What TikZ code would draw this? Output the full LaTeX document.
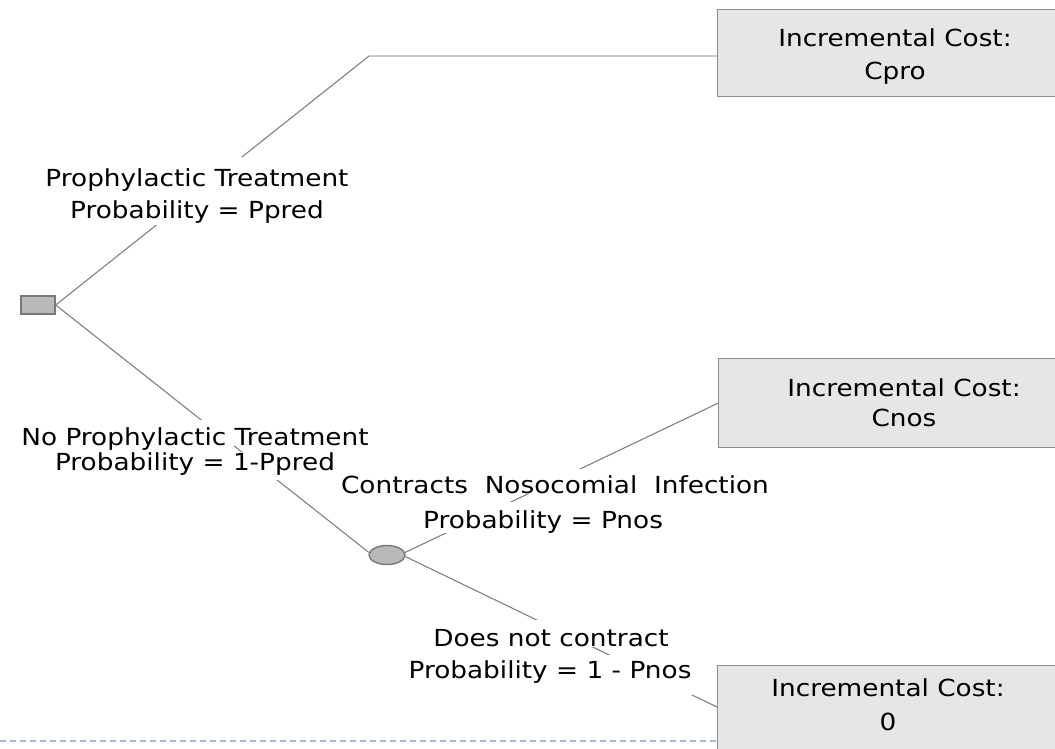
\documentclass[tikz,border=0pt]{standalone}
\usepackage{fontspec}
\setmainfont{DejaVu Sans}[FakeStretch=1.12]
\usetikzlibrary{shapes.geometric}
\definecolor{branchgray}{RGB}{128,128,128}
\definecolor{lightbranch}{RGB}{200,200,200}
\definecolor{boxfill}{RGB}{230,230,230}
\definecolor{boxedge}{RGB}{140,140,140}
\definecolor{nodefill}{RGB}{185,185,185}
\definecolor{nodeedge}{RGB}{120,120,120}
\definecolor{rulecolor}{RGB}{165,188,210}
\newcommand\txt[1]{\fontsize{23.5}{#1}\selectfont}
\begin{document}
\begin{tikzpicture}[x=1pt,y=-1pt,
  branch/.style={draw=branchgray, line width=1.1pt},
  branchlight/.style={draw=lightbranch, line width=1.6pt},
  outcome/.style={rectangle, draw=boxedge, fill=boxfill, line width=1.4pt,
    anchor=north west, inner sep=0pt, minimum width=360pt},
  decision/.style={rectangle, draw=nodeedge, fill=nodefill, line width=1.4pt,
    minimum width=34pt, minimum height=18pt, inner sep=0pt},
  chancenode/.style={ellipse, draw=nodeedge, fill=nodefill, line width=1.4pt,
    minimum width=36pt, minimum height=19pt, inner sep=0pt},
  lbl/.style={align=center, inner sep=0pt, text=black, font=\txt{30}},
  % one line of a branch label on its own white strip
  strip/.style 2 args={anchor=base, fill=white, inner xsep=2pt, inner ysep=0pt,
    text height=#1, text depth=#2, font=\txt{30}, text=black}]
\clip (0,0) rectangle (1055,748);

% outcome boxes
\node[outcome, minimum height=87pt] (box1) at (717,9) {};
\node[outcome, minimum height=89pt] (box2) at (718,358) {};
\node[outcome, minimum height=100pt] (box3) at (717,665) {};

% decision and chance nodes
\node[decision] (dec) at (38,305) {};
\node[chancenode] (chance) at (387,555) {};

% branches
\coordinate (knee) at (369,56);
\coordinate (end3) at (717,707);
\coordinate (rule) at (0,741);
\draw[branch] (dec.east) -- (knee);
\draw[branchlight] (knee) -- (box1.west |- knee);
\draw[branch] (dec.east) -- (chance.172);
\draw[branch] (chance.8) -- (box2.west);
\draw[branch] (chance.-5) -- (end3);
\draw[rulecolor, line width=1.2pt, dash pattern=on 6pt off 4pt] (rule) -- (box3.west |- rule);

% box texts
\node[lbl, font=\txt{33}] (t1) at (895,56.5) {Incremental Cost:\\Cpro};
\node[lbl, font=\txt{30}] (t2) at (904,403) {Incremental Cost:\\Cnos};
\node[lbl, font=\txt{34}] (t3) at (888,705) {Incremental Cost:\\0};

% branch labels, one strip per line
\node[strip={30pt}{16pt}]   (l1a) at (197,186.5) {Prophylactic Treatment};
\node[strip={17pt}{6pt}]    (l1b) at (197,218.5) {Probability = Ppred};
\node[strip={25.5pt}{0pt}]  (l2a) at (195,445.5) {No Prophylactic Treatment};
\node[strip={19pt}{9.5pt}]  (l2b) at (195,470.5) {Probability = 1-Ppred};
\node[strip={24.5pt}{0pt}]  (l3a) at (555,493.5) {Contracts\ \ Nosocomial\ \ Infection};
\node[strip={26.5pt}{4.5pt}] (l3b) at (543,528.5) {Probability = Pnos};
\node[strip={26.5pt}{0pt}]  (l4a) at (551,646.5) {Does not contract};
\node[strip={23.5pt}{16.5pt}] (l4b) at (550,678.5) {Probability = 1 - Pnos};
\end{tikzpicture}
\end{document}
